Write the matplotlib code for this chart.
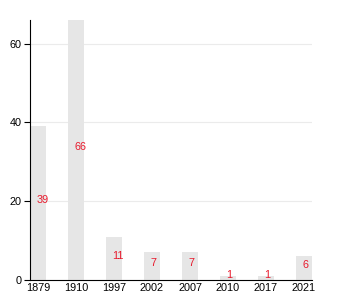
import matplotlib.pyplot as plt

years = ['1879', '1910', '1997', '2002', '2007', '2010', '2017', '2021']
counts = [39, 66, 11, 7, 7, 1, 1, 6]
yticks = [0, 20, 40, 60]

plt.rcParams['font.family'] = ['Liberation Sans', 'DejaVu Sans']

fig = plt.figure(figsize=(3.5, 3), dpi=100)
ax = fig.add_axes([30 / 350, 20 / 300, 282 / 350, 260 / 300])

x = list(range(len(years)))
ax.bar(x, counts, width=0.42, color='#e6e6e6', zorder=2)

# labels start at bar centre, sit at half height
for xi, c in zip(x, counts):
    ax.annotate(str(c), (xi, c / 2), xytext=(-1, 2), textcoords='offset points',
                ha='left', va='center', color='#e8192c', fontsize=7.8, zorder=3)

ax.set_xlim(-0.21, len(years) - 1 + 0.21)
ax.set_ylim(0, 66)
ax.set_xticks(x)
ax.set_xticklabels(years)
ax.set_yticks(yticks)
ax.tick_params(axis='x', length=0, labelsize=7.8, pad=2)
ax.tick_params(axis='y', length=4, width=0.8, labelsize=7.8, pad=2)
ax.grid(axis='y', color='#ebebeb', linewidth=0.8, zorder=0)
ax.set_axisbelow(True)

for s in ['top', 'right']:
    ax.spines[s].set_visible(False)
ax.spines['left'].set_linewidth(0.8)
ax.spines['bottom'].set_linewidth(0.8)

fig.savefig('out.png', dpi=100)
